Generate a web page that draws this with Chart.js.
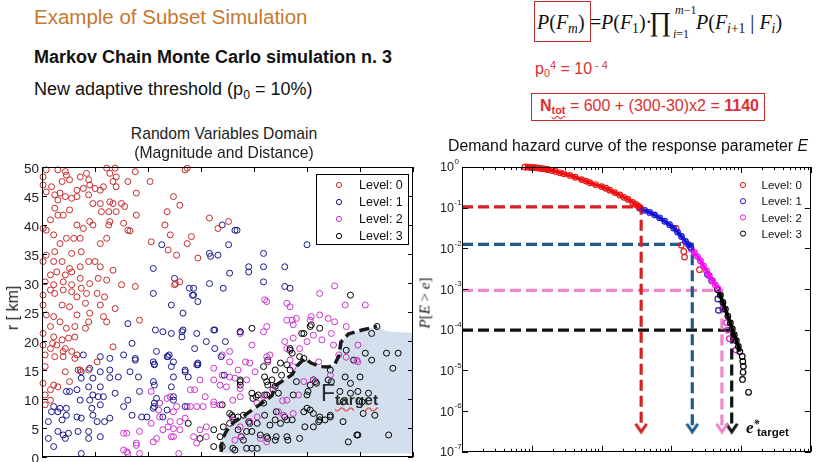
<!DOCTYPE html>
<html>
<head>
<meta charset="utf-8">
<script src="https://cdn.jsdelivr.net/npm/chart.js@4.4.1/dist/chart.umd.min.js"></script>
<style>
  body { margin: 0; background: #fff; }
  #slide { position: relative; width: 821px; height: 462px; overflow: hidden; font-family: 'Liberation Sans', Arial, sans-serif; color: #111; }
  .t { position: absolute; white-space: nowrap; line-height: 1; }
  .serif { font-family: 'Liberation Serif', 'Times New Roman', serif; }
  .sb { font-size: .68em; position: relative; top: .3em; }
  .sp { font-size: .68em; position: relative; top: -.45em; }
  .red { color: #de2f2f; }
  canvas { position: absolute; }
</style>
</head>
<body>
<div id="slide">
  <canvas id="cLeft" width="420" height="302" style="left:0; top:160px"></canvas>
  <canvas id="cRight" width="401" height="307" style="left:420px; top:155px"></canvas>

  <div class="t" style="left:34px; top:7px; font-size:20.5px; color:#c4792d">Example of Subset Simulation</div>
  <div class="t" style="left:34px; top:48px; font-size:18px; font-weight:bold">Markov Chain Monte Carlo simulation n. 3</div>
  <div class="t" style="left:34px; top:80px; font-size:18px">New adaptive threshold (p<span class="sb">0</span> = 10%)</div>

  <div class="t serif" style="left:537px; top:12px; font-size:20px"><i>P</i>(<i>F</i><i class="sb">m</i>)</div>
  <div style="position:absolute; left:534px; top:1px; width:55px; height:39px; border:1.5px solid #c0302a"></div>
  <div class="t serif" style="left:590px; top:12px; font-size:20px">=</div>
  <div class="t serif" style="left:601px; top:12px; font-size:20px"><i>P</i>(<i>F</i><span class="sb">1</span>)·</div>
  <div class="t serif" style="left:649px; top:9px; font-size:27px">∏</div>
  <div class="t serif" style="left:675px; top:4px; font-size:12px"><i>m</i>−1</div>
  <div class="t serif" style="left:673px; top:28px; font-size:12px"><i>i</i>=1</div>
  <div class="t serif" style="left:696px; top:12px; font-size:20px"><i>P</i>(<i>F</i><i class="sb">i</i><span class="sb">+1</span> | <i>F</i><i class="sb">i</i>)</div>

  <div class="t red" style="left:535px; top:61px; font-size:16px">p<span class="sb">0</span><span class="sp">4</span> = 10<span class="sp"> - 4</span></div>
  <div style="position:absolute; left:531px; top:93px; width:232px; height:26px; border:1.5px solid #c0302a"></div>
  <div class="t red" style="left:540px; top:98px; font-size:16px"><b>N</b><b class="sb" style="text-decoration:underline wavy #d33">tot</b> = 600 + (300-30)x2 = <b>1140</b></div>

  <div class="t" style="left:224px; top:125.5px; font-size:15.7px; color:#222; transform:translateX(-50%)">Random Variables Domain</div>
  <div class="t" style="left:224px; top:145px; font-size:15.7px; color:#222; transform:translateX(-50%)">(Magnitude and Distance)</div>
  <div class="t" style="left:13px; top:308px; font-size:16px; color:#222; transform:translate(-50%,-50%) rotate(-90deg)">r [ km]</div>

  <div class="t" style="left:628px; top:138px; font-size:15.8px; color:#111; transform:translateX(-50%)">Demand hazard curve of the response parameter <i>E</i></div>
  <div class="t serif" style="left:425px; top:303px; font-size:15px; transform:translate(-50%,-50%) rotate(-90deg)"><i>P</i>[<i>E</i> &gt; <i>e</i>]</div>

  <div class="t" style="left:321px; top:382px; font-size:23px; color:#2a2a2a">F</div>
  <div class="t" style="left:335px; top:392px; font-size:15.5px; font-weight:bold; color:#2a2a2a; text-decoration:underline wavy #e06060">target</div>
  <div class="t serif" style="left:746px; top:419px; font-size:17px; font-weight:bold; font-style:italic">e<span class="sp">*</span></div>
  <div class="t" style="left:757px; top:427px; font-size:11.5px; font-weight:bold">target</div>
</div>

<script>
const LEVELS = ['Level: 0', 'Level: 1', 'Level: 2', 'Level: 3']

// Random variables domain: magnitude M vs distance r [km]
const M_TICKS = [4.5, 5, 5.5, 6, 6.5, 7, 7.5, 8]
const R_TICKS = [0, 5, 10, 15, 20, 25, 30, 35, 40, 45, 50]

const lev0 = [[4.51,48.3],[4.54,49.5],[4.65,49.5],[4.72,49.2],[4.73,48.6],[4.69,47.5],[4.76,47.8],[4.86,48.3],[4.92,48.9],[4.94,47.8],
  [4.95,46.9],[4.83,46],[4.59,46.6],[4.51,46.9],[4.54,45.7],[4.62,45.2],[4.67,45.5],[4.65,44.3],[4.72,44.9],[4.78,44.6],
  [4.83,44.9],[4.89,46.3],[5.0,46.3],[5.05,46],[5.08,46.6],[5.11,49.8],[5.19,49.8],[5.2,48.3],[5.14,48.9],[5.17,47.5],
  [5.2,46.6],[4.94,45.2],[4.98,43.7],[5.05,43.7],[5.06,42.3],[5.14,44],[5.17,43.7],[5.13,42.3],[5.2,42.3],[5.25,43.7],
  [5.28,43.2],[5.31,47.5],[5.38,49.2],[5.39,45.5],[5.39,41.7],[5.52,47.5],[5.74,44.9],[5.68,42.3],[5.8,43.4],[5.85,49.5],
  [5.87,49.8],[6.08,41.2],[6.16,39.4],[6.26,40.6],[5.66,40],[5.53,37.1],[5.71,38.3],[5.69,35.7],[5.77,34.8],[5.87,36.8],
  [5.91,38],[5.97,34.3],[5.76,29.9],[5.8,30.2],[5.31,39.1],[5.33,39],[5.27,40.3],[5.14,40.6],[5.13,40],[4.98,40],
  [4.89,39.4],[4.86,37.7],[4.8,37.7],[4.73,37.7],[4.67,36.8],[4.61,38.3],[4.54,39.1],[4.51,39.4],[4.58,40.9],[4.65,41.7],
  [4.62,42.9],[4.7,41.7],[4.76,42.6],[4.83,40],[4.95,40.6],[5.05,36.8],[5.11,37.7],[4.87,35.4],[4.78,35.1],[4.62,35.4],
  [4.54,34.8],[4.51,33.7],[4.61,33.7],[4.69,33.7],[4.76,32.5],[4.86,32.8],[4.94,33.7],[5.0,33.7],[5.05,32.8],[5.17,32.2],
  [5.03,30.8],[5.11,30.5],[4.95,29.9],[4.86,30.8],[4.78,31.9],[4.72,31.4],[4.64,31.9],[4.58,31.4],[4.53,30.2],[4.61,29.7],
  [4.7,30.2],[4.78,29.7],[4.87,29.1],[5.25,29.7],[5.38,29.4],[5.75,29.7],
  [4.51,27.9],[4.58,28.8],[4.62,28.2],[4.7,28.8],[4.78,28.5],[4.51,26.2],[4.54,24.5],[4.61,24.2],[4.69,26.2],[4.76,25.9],
  [4.83,24.5],[4.91,26.5],[4.95,24.8],[4.92,28.2],[5.02,28.2],[5.09,27.6],[5.19,25.6],[5.11,23.3],[4.94,23.3],[4.91,22.2],
  [4.81,22.5],[4.73,22.2],[4.67,23.3],[4.58,22.5],[4.51,21.3],[4.61,20.7],[4.69,20.2],[4.75,20.5],[4.81,20.7],[4.51,19.3],
  [4.58,18.7],[4.64,19.3],[4.72,18.7],[4.78,18.2],[4.53,17.6],[4.62,17.3],[4.7,17.3],[4.81,17],[5.02,16.4],[4.94,15],
  [4.84,15],[4.72,14.7],[4.53,15.6],[4.51,12.7],[4.61,12.4],[4.58,11.6],[4.65,12.1],[4.76,13],[4.58,9.8],[4.53,10.7],
  [4.53,9],[4.83,17.6],[5.17,19],[5.42,23.6],[5.08,24.2],[5.05,26.2],[4.83,27.6],[4.6,19.6],[4.7,18.2],[4.86,15]]

const lev1 = [[5.63,36.6],[5.55,32.5],[5.75,30.8],[5.93,29.1],[6.08,29.9],[6.21,29.1],[6.08,35.1],[6.09,34.6],[6.16,34.8],[6.2,40],
  [6.34,39.1],[6.26,36.6],[6.45,32.8],[6.45,31.9],[6.59,32.8],[6.59,30.2],[6.59,35.1],[6.79,32.8],[6.79,29.4],[6.84,29.1],
  [7.0,36.6],[6.27,31.7],[6.32,39.1],[5.55,28.2],[5.72,26.2],[5.89,29.1],[5.92,27.9],[5.97,26.8],[5.83,24.8],[5.93,27.9],
  [6.12,21.9],[6.37,21.6],[5.57,21.9],[5.64,21.6],[5.72,21.3],[5.82,21.6],[5.96,21.3],[5.82,20.7],[5.31,23],[5.35,19.6],
  [5.58,18.2],[5.68,17.3],[5.7,17.6],[5.38,17],[5.38,16.7],[5.27,17.6],[5.14,17],[5.05,17.3],[4.95,15.3],[4.89,17.6],
  [4.87,14.7],[4.98,13.6],[5.05,14.7],[5.14,15],[5.14,13.7],[5.22,13.8],[5.33,14.7],[5.41,13.8],[5.55,16.4],[5.56,16],
  [5.74,16.4],[5.96,15.9],[5.97,16.2],[5.74,13.8],[5.72,12.1],[5.85,15],[5.55,13],[5.42,11.3],[5.31,9.8],[5.27,8.7],
  [5.35,7.2],[5.44,6.9],[5.49,6.9],[5.55,8.4],[5.56,8.7],[5.68,8.1],[5.64,6.9],[5.85,8.7],[5.74,10.4],[5.74,9.8],
  [5.19,11],[5.08,10.4],[5.03,10.4],[5.05,9],[4.98,10.7],[4.94,12.1],[4.83,11.6],[4.73,11.3],[4.76,11.3],[4.86,9.8],
  [4.95,9.8],[4.61,8.7],[4.67,8.4],[4.73,8.4],[4.59,7.8],[4.65,7.8],[4.56,6.1],[4.69,6.4],[4.73,7.2],[4.83,6.9],
  [4.87,6.7],[4.98,7.2],[5.09,6.1],[5.14,6.7],[5.02,6.1],[4.56,3.2],[4.61,1.8],[4.65,4.4],[4.7,3.8],[4.72,3.2],
  [4.75,4.1],[4.84,4.4],[4.94,4.4],[4.94,3.2],[5.05,3.5],[4.87,0.6],[4.97,8.4],[5.05,12.1],[4.87,13.6],[5.83,21.9],
  [6.13,21.9],[5.94,18.7],[6.13,18.7],[6.19,17.3],[5.69,17.3],[5.72,15.6],[5.56,15.9],[5.85,14.7],[5.97,15.9],[5.56,12.4],
  [5.58,10.1],[5.56,9.3],[5.88,13.8],[6.05,19.9],[6.22,14.1],[6.23,19.9]]

const lev2 = [[6.62,26.8],[6.84,25.9],[7.12,28.2],[7.26,29.5],[7.36,26.2],[7.55,26.2],[6.6,27.1],[6.81,26.5],[6.62,22.5],[6.59,21.6],
  [6.81,23.6],[6.9,23.9],[6.87,22.8],[7.03,23.6],[7.04,24.2],[7.12,24.5],[7.26,23.3],[6.79,19.9],[6.87,20.5],[6.93,18.7],
  [7.0,19.9],[7.06,21],[7.14,20.2],[7.23,21.3],[7.37,22.5],[7.48,19.3],[7.25,19.3],[6.84,16.7],[6.87,15.6],[7.11,16.4],
  [7.3,17.6],[7.47,16.7],[7.37,17.2],[6.65,17.6],[6.62,17.3],[6.63,16.4],[6.48,19.3],[6.37,21.3],[6.2,17.6],[6.27,18.2],
  [6.27,16.4],[6.12,15.3],[6.42,16.4],[6.46,16.2],[6.35,15],[6.51,14.7],[6.2,14.1],[6.27,13.8],[6.32,13.6],[6.37,11.8],
  [6.43,13.3],[6.24,12.1],[6.18,12.4],[6.12,13.3],[5.99,13.3],[5.94,11.6],[5.9,11.6],[6.04,10.4],[6.12,9.5],[6.12,9],
  [6.18,9],[6.3,9.8],[6.37,10.4],[6.53,9.3],[6.59,10.4],[6.68,11.6],[5.87,8.7],[5.9,8.7],[5.96,8.7],[6.02,8.7],
  [5.77,8.7],[5.61,9.3],[5.68,10.1],[5.71,10.4],[5.53,11.3],[5.6,8.1],[5.74,7.8],[5.85,6.7],[5.71,6.1],[5.8,6.1],
  [5.61,6.9],[5.53,5.8],[5.69,5.2],[5.64,4.7],[5.74,4.9],[5.8,4.7],[5.72,3.5],[5.74,3.5],[5.93,3.5],[5.99,4.7],
  [6.05,5.2],[5.55,2.6],[5.58,3.2],[5.42,4.4],[5.3,4.1],[5.27,4.1],[5.39,2.4],[5.39,2],[5.27,1.2],[5.31,0.6],
  [5.42,0.6],[5.3,0.9],[5.79,0.6],[5.96,2.4],[6.05,3.5],[6.32,2.9],[6.38,3.5],[6.56,3.2],[6.62,2.6],[6.37,5.2],
  [6.53,6.9],[6.73,7.8],[6.78,7.2],[6.87,7.5],[6.81,9.8],[6.77,9.7],[6.92,10.7],[6.46,6.1],[6.3,6.4],[6.86,23.6],
  [7.2,23.9],[7.48,16.4],[7.22,14.1],[7.06,13.3],[6.97,13],[6.81,18.7]]

const lev3 = [[7.66,22.5],[7.61,21.3],[7.03,22.5],[7.12,22.2],[6.97,21.3],[6.48,22.2],[6.37,21.6],[6.84,18.7],[6.86,17.9],[6.93,17.3],
  [6.97,17],[6.75,16.2],[6.81,15.9],[6.63,16.7],[6.59,15.6],[6.6,13.8],[6.7,15],[6.76,14.1],[6.84,15],[6.9,13],
  [6.37,13],[6.37,12.4],[6.48,11],[6.54,10.7],[6.6,10.7],[6.63,12.4],[6.68,11.6],[6.73,11],[6.7,12.2],[6.87,10.7],
  [7.0,10.7],[7.08,13],[7.09,12.7],[7.03,12.4],[7.23,13],[7.36,13.8],[7.41,12.7],[7.31,11.3],[7.41,11],[7.34,9.5],
  [7.52,9.5],[7.64,7.2],[7.53,7.5],[7.34,6.1],[7.17,6.4],[7.12,6.9],[7.06,7.5],[6.97,7.8],[7.03,8.1],[7.11,6.1],
  [7.22,7.2],[6.98,5.2],[6.86,6.4],[6.79,6.9],[6.71,7.8],[6.7,6.4],[6.65,5.5],[6.75,5.8],[6.6,7.2],[6.53,5.8],
  [6.45,6.1],[6.4,7.2],[6.35,6.9],[6.29,7.2],[6.27,5.8],[6.35,4.7],[6.43,4.4],[6.48,4.4],[6.63,3.2],[6.82,2.9],
  [6.7,2.9],[6.56,3.8],[6.4,2.9],[6.48,1.5],[6.43,1.5],[6.32,1.2],[7.39,2.6],[7.48,3.8],[7.81,15.3],[7.86,17.9],
  [7.41,27.9],[7.37,18.4],[7.44,16.7],[7.55,17.9],[7.61,16.7],[7.75,17.9],[7.5,13.8],[7.48,11.3],[7.58,11],[7.47,3.8],
  [7.2,13.3],[7.22,15],[7.06,13.3],[7.01,11.3],[7.0,8.4],[7.12,6.4],[7.22,6.9],[7.06,5.2],[6.93,3.2],[6.81,3.5],
  [6.81,6.4],[6.71,3.5],[6.62,3.5],[6.53,1.5],[6.3,1.5],[6.2,1.8],[6.12,1.8],[5.99,3.2],[6.12,4.7],[6.21,5.2],
  [6.18,3.5],[6.38,3.5],[6.46,5.8],[6.27,7.5],[6.3,6.9],[6.49,10.1],[6.52,10.4],[6.59,9.3],[6.62,10.7],[6.67,13.3],
  [6.62,13],[6.37,13.3],[5.88,5.8],[6.2,9],[6.84,18.4],[6.95,21.3],[7.04,22.8],[7.77,3.8]]

// F_target boundary (dashed curve)
const TARGET_M = [6.19, 6.2, 6.24, 6.31, 6.42, 6.52, 6.62, 6.67, 6.7, 6.76, 6.86, 6.91, 6.98, 7.04, 7.12, 7.2, 7.26, 7.3, 7.32, 7.39, 7.52, 7.66]
const TARGET_R = [0.9, 3.0, 4.5, 6.0, 7.3, 8.6, 9.9, 10.6, 12.3, 13.0, 14.2, 15.8, 17.0, 16.2, 15.6, 15.5, 15.9, 17.4, 19.8, 21.2, 21.9, 22.5]

// Demand hazard curve: E vs P[E > e]
const E_DECADES = [-2, -1, 0, 1, 2, 3]
const P_EXP = [0, -1, -2, -3, -4, -5, -6, -7]

const hz0E = [0.080, 0.088, 0.095, 0.103, 0.111, 0.12, 0.131, 0.145, 0.16, 0.173, 0.195, 0.22, 0.254, 0.29, 0.352, 0.42,
  0.518, 0.6, 0.68, 0.82, 1.0, 1.15, 1.31, 1.55, 1.83, 2.1, 2.4, 2.8, 3.1, 3.33, 3.6]
const hz0P = [1.0, 0.99, 0.98, 0.97, 0.96, 0.95, 0.93, 0.91, 0.89, 0.86, 0.82, 0.78, 0.72, 0.68, 0.62, 0.56,
  0.49, 0.45, 0.41, 0.37, 0.33, 0.30, 0.27, 0.235, 0.205, 0.18, 0.16, 0.135, 0.12, 0.11, 0.10]
const hz1E = [3.5, 4.16, 4.9, 5.77, 6.8, 8.02, 9.46, 10.8, 12.3, 14.0, 16.0, 17.7, 18.9]
const hz1P = [0.098, 0.086, 0.0766, 0.0667, 0.0564, 0.0464, 0.0382, 0.0315, 0.0252, 0.0196, 0.0148, 0.0122, 0.0106]
const hz2E = [19.5, 21.5, 23.8, 26.2, 28.9, 31.9, 35.2, 38.9, 42.9, 46.6]
const hz2P = [0.0095, 0.0078, 0.0063, 0.0049, 0.0037, 0.0028, 0.0021, 0.0016, 0.00125, 0.00103]
const hz3E = [45.8, 50.6, 55.0, 59.7, 64.7, 70.3, 75.1, 80.2, 85.7, 91.5, 96.1]
const hz3P = [9.7e-4, 7.0e-4, 4.7e-4, 3.2e-4, 2.17e-4, 1.47e-4, 1.05e-4, 7.5e-5, 5.4e-5, 3.9e-5, 2.9e-5]
const tail3E = [104, 106, 108, 107, 105, 128]
const tail3P = [2.2e-5, 1.66e-5, 1.26e-5, 9e-6, 6e-6, 2.9e-6]
const out0E = [11.7, 13.9, 15.1, 15.5, 25.4]
const out0P = [0.031, 0.012, 0.0084, 0.0061, 0.003]
const out1E = [33, 38, 46.5, 47.5]
const out1P = [0.0023, 0.0016, 5.7e-4, 3.0e-4]
const out2E = [54.6, 62, 64.4, 68.1, 84.9]
const out2P = [3.25e-4, 1.5e-4, 9.8e-5, 6e-5, 3.2e-5]

// adaptive thresholds per level
const TH_E = [3.7, 20, 53.2, 73.5]
const TH_P = [0.105, 0.0125, 9.3e-4, 9.8e-5]
const ARROW_P = 3.9e-7

Chart.defaults.font.family = "'Liberation Sans', Arial, sans-serif"
Chart.defaults.animation = false

const pairs = (xs, ys) => xs.map((x, i) => ({ x, y: ys[i] }))

// MATLAB-like frame with inward ticks
const boxTicks = {
  id: 'boxTicks',
  afterDatasetsDraw(chart, args, o) {
    const { ctx, chartArea: a, scales: { x, y } } = chart
    ctx.save()
    ctx.strokeStyle = '#000'
    ctx.lineWidth = 1
    ctx.beginPath()
    x.ticks.forEach(t => {
      const p = Math.round(x.getPixelForValue(t.value)) + 0.5
      const len = t.minor ? o.minor : o.major
      ctx.moveTo(p, a.bottom); ctx.lineTo(p, a.bottom - len)
      ctx.moveTo(p, a.top); ctx.lineTo(p, a.top + len)
    })
    y.ticks.forEach(t => {
      const p = Math.round(y.getPixelForValue(t.value)) + 0.5
      ctx.moveTo(a.left, p); ctx.lineTo(a.left + o.major, p)
      ctx.moveTo(a.right, p); ctx.lineTo(a.right - o.major, p)
    })
    ctx.stroke()
    ctx.strokeRect(Math.round(a.left) + 0.5, Math.round(a.top) + 0.5, Math.round(a.width) - 1, Math.round(a.height) - 1)
    ctx.restore()
  }
}

// y tick labels, plain numbers or powers of ten
const tickText = {
  id: 'tickText',
  afterDraw(chart, args, o) {
    const { ctx, chartArea: a, scales: { y } } = chart
    ctx.save()
    ctx.fillStyle = '#222'
    ctx.textBaseline = 'middle'
    y.ticks.forEach(t => {
      const p = y.getPixelForValue(t.value)
      if (o.pow) {
        const ex = String(Math.round(Math.log10(t.value)))
        ctx.font = '12.5px ' + Chart.defaults.font.family
        ctx.textAlign = 'right'
        ctx.fillText('10', a.left - 8, p + 1)
        ctx.font = '8px ' + Chart.defaults.font.family
        ctx.textAlign = 'left'
        ctx.fillText(ex, a.left - 7.5, p - 5)
      } else {
        ctx.font = '13.5px ' + Chart.defaults.font.family
        ctx.textAlign = 'right'
        ctx.fillText(String(t.value), a.left - 3, p + 2)
      }
    })
    ctx.restore()
  }
}

const insetLegend = {
  id: 'insetLegend',
  afterDraw(chart, args, o) {
    const { ctx, chartArea: a } = chart
    ctx.save()
    if (o.box) {
      ctx.fillStyle = '#fff'
      ctx.fillRect(a.left + o.box[0], a.top + o.box[1], o.box[2], o.box[3])
      ctx.strokeStyle = '#000'
      ctx.lineWidth = 1
      ctx.strokeRect(a.left + o.box[0] + 0.5, a.top + o.box[1] + 0.5, o.box[2], o.box[3])
    }
    ctx.font = o.font + 'px ' + Chart.defaults.font.family
    ctx.textBaseline = 'middle'
    LEVELS.forEach((lab, i) => {
      const yy = a.top + o.top + i * o.step
      ctx.strokeStyle = chart.data.datasets[i].borderColor
      ctx.lineWidth = 1
      ctx.beginPath()
      ctx.arc(a.left + o.mark, yy, 2.6, 0, Math.PI * 2)
      ctx.stroke()
      ctx.fillStyle = '#111'
      ctx.fillText(lab, a.left + o.text, yy + 1)
    })
    ctx.restore()
  }
}

function cloud(data, color) {
  return {
    data: data.map(([x, y]) => ({ x, y })),
    borderColor: color,
    pointBorderColor: color,
    pointBackgroundColor: 'rgba(0,0,0,0)',
    pointRadius: 3,
    pointBorderWidth: 1,
    clip: 4,
    order: 2
  }
}

const shape = pairs(TARGET_M, TARGET_R)

new Chart(document.getElementById('cLeft'), {
  type: 'scatter',
  data: {
    datasets: [
      cloud(lev0, '#c62a2a'),
      cloud(lev1, '#18188c'),
      cloud(lev2, '#cc33cc'),
      cloud(lev3, '#000000'),
      {
        type: 'line',
        data: [{ x: TARGET_M[0], y: 0.6 }, ...shape, { x: 7.75, y: 21.7 }, { x: 8, y: 21.4 }, { x: 8, y: 0.6 }],
        borderWidth: 0,
        backgroundColor: 'rgb(211,223,236)',
        fill: 'shape',
        pointRadius: 0,
        order: 9
      },
      {
        type: 'line',
        data: shape,
        borderColor: '#1a1a1a',
        borderWidth: 3.5,
        borderDash: [10, 5],
        fill: false,
        pointRadius: 0,
        order: 0
      }
    ]
  },
  options: {
    responsive: false,
    layout: { padding: { left: 0, right: 7, top: 7, bottom: 5 } },
    scales: {
      x: {
        type: 'linear', min: 4.5, max: 8,
        grid: { display: false, drawTicks: false }, border: { display: false },
        ticks: { display: false },
        afterBuildTicks: s => { s.ticks = M_TICKS.map(v => ({ value: v })) },
        afterFit: s => { s.height = 0 }
      },
      y: {
        type: 'linear', min: 0, max: 50,
        grid: { display: false, drawTicks: false }, border: { display: false },
        ticks: { display: false },
        afterBuildTicks: s => { s.ticks = R_TICKS.map(v => ({ value: v })) },
        afterFit: s => { s.width = 42 }
      }
    },
    plugins: {
      legend: { display: false },
      tooltip: { enabled: false },
      boxTicks: { major: 5, minor: 3 },
      tickText: { pow: false },
      insetLegend: { box: [274, 7, 92, 70], top: 18, step: 17, mark: 297, text: 317, font: 12.5 }
    }
  },
  plugins: [boxTicks, tickText, insetLegend]
})

function chevron(color) {
  const c = document.createElement('canvas')
  c.width = 14
  c.height = 14
  const g = c.getContext('2d')
  g.strokeStyle = color
  g.lineWidth = 3
  g.beginPath()
  g.moveTo(1.5, 3)
  g.lineTo(7, 11)
  g.lineTo(12.5, 3)
  g.stroke()
  return c
}

function band(xs, ys, color, line) {
  return {
    data: pairs(xs, ys),
    showLine: line,
    borderColor: color,
    borderWidth: 3.5,
    pointBorderColor: color,
    pointBackgroundColor: 'rgba(0,0,0,0)',
    pointRadius: 2.8,
    pointBorderWidth: 1.2,
    clip: 4,
    order: 1
  }
}

function threshold(i, color) {
  const tip = chevron(color)
  const e0 = Math.pow(10, E_DECADES[0])
  return {
    type: 'line',
    data: [{ x: e0, y: TH_P[i] }, { x: TH_E[i], y: TH_P[i] }, { x: TH_E[i], y: ARROW_P }],
    borderColor: color,
    borderWidth: 3.2,
    borderDash: [11, 5],
    fill: false,
    pointRadius: c => c.dataIndex === 2 ? 7 : 0,
    pointStyle: c => c.dataIndex === 2 ? tip : 'circle',
    order: 5
  }
}

const ALL_E = []
E_DECADES.forEach((d, i) => {
  ALL_E.push({ value: Math.pow(10, d) })
  if (i < E_DECADES.length - 1) {
    for (let k = 2; k <= 9; k++) ALL_E.push({ value: k * Math.pow(10, d), minor: true })
  }
})

new Chart(document.getElementById('cRight'), {
  type: 'scatter',
  data: {
    datasets: [
      band(hz0E, hz0P, '#ee1111', true),
      band(hz1E, hz1P, '#1414d8', true),
      band(hz2E, hz2P, '#f010f0', true),
      band(hz3E, hz3P, '#000000', true),
      band(out0E, out0P, '#dd2222', false),
      band(out1E, out1P, '#1a1aa0', false),
      band(out2E, out2P, '#d020d0', false),
      band(tail3E, tail3P, '#000000', false),
      threshold(0, '#d82020'),
      threshold(1, '#1b5c8c'),
      threshold(2, '#ef86c6'),
      threshold(3, '#111111')
    ]
  },
  options: {
    responsive: false,
    layout: { padding: { left: 0, right: 9, top: 12, bottom: 5 } },
    scales: {
      x: {
        type: 'logarithmic',
        min: Math.pow(10, E_DECADES[0]), max: Math.pow(10, E_DECADES[E_DECADES.length - 1]),
        grid: { display: false, drawTicks: false }, border: { display: false },
        ticks: { display: false },
        afterBuildTicks: s => { s.ticks = ALL_E.slice() },
        afterFit: s => { s.height = 0 }
      },
      y: {
        type: 'logarithmic',
        min: Math.pow(10, P_EXP[P_EXP.length - 1]), max: Math.pow(10, P_EXP[0]),
        grid: { display: false, drawTicks: false }, border: { display: false },
        ticks: { display: false },
        afterBuildTicks: s => { s.ticks = P_EXP.map(e => ({ value: Math.pow(10, e) })) },
        afterFit: s => { s.width = 42 }
      }
    },
    plugins: {
      legend: { display: false },
      tooltip: { enabled: false },
      boxTicks: { major: 6, minor: 3 },
      tickText: { pow: true },
      insetLegend: { box: null, top: 18, step: 16.2, mark: 281, text: 299.5, font: 11.5 }
    }
  },
  plugins: [boxTicks, tickText, insetLegend]
})
</script>
</body>
</html>
